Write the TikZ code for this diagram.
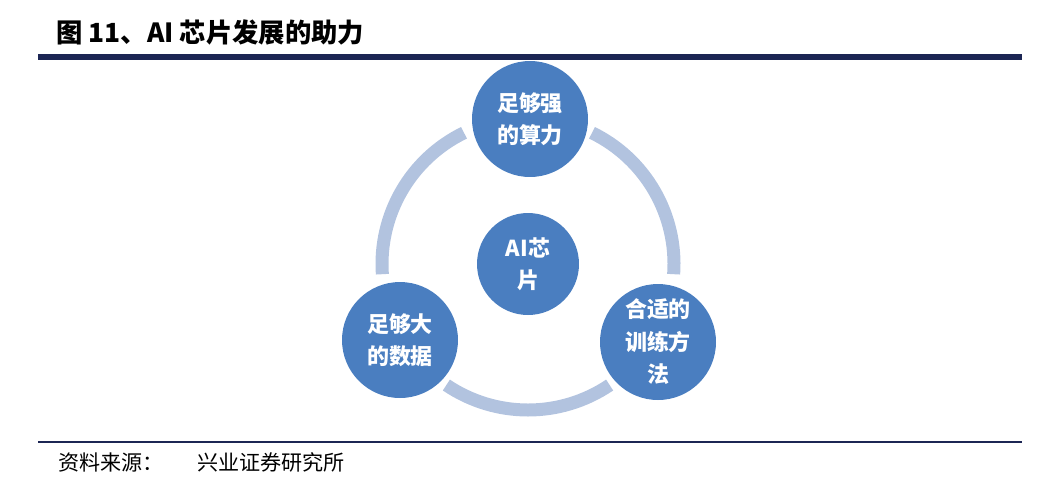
\documentclass[tikz,border=0pt]{standalone}
\usepackage{fontspec}
\usepackage{xcolor}
\usepackage{tikz}
\usetikzlibrary{positioning}
\setmainfont{Noto Sans CJK SC}
\definecolor{ballC}{HTML}{4A7EC0}
\definecolor{ringC}{HTML}{B2C3DF}
\definecolor{ruleC}{HTML}{1C2654}

\begin{document}
\begin{tikzpicture}[
    x=0.02cm, y=-0.02cm,
    ball/.style={circle, fill=ballC, inner sep=0pt, minimum size=2.32cm, align=center,
                 text=white, font=\fontsize{12.5}{18.5}\selectfont\bfseries},
    hub/.style={ball, minimum size=2.04cm},
    ring/.style={draw=ringC, line width=0.26cm, line cap=butt},
    rule/.style={draw=ruleC}
]
\useasboundingbox (0,0) rectangle (1054,488);

% heading and rules
\node[anchor=west, font=\fontsize{15}{18}\selectfont\bfseries] (title) at (50,32) {图 11、AI 芯片发展的助力};
\coordinate (topL) at (38,57);
\coordinate (topR) at (1022,57);
\draw[rule, line width=3pt] (topL) -- (topR);
\coordinate (botL) at (38,442);
\coordinate (botR) at (1022,442);
\draw[rule, line width=1.2pt] (botL) -- (botR);
\node[anchor=west, font=\fontsize{12}{14}\selectfont] (source) at (52,462) {资料来源：\hspace{1.6em}兴业证券研究所};

% ring round the hub (y axis points down, so angles are negated)
\node[hub] (chip) at (528,264) {AI芯\\片};
\draw[ring] (chip.center) ++(-116:146) arc[start angle=-116, end angle=-184, radius=146];
\draw[ring] (chip.center) ++(-236:146) arc[start angle=-236, end angle=-304, radius=146];
\draw[ring] (chip.center) ++(-356:146) arc[start angle=-356, end angle=-424, radius=146];

% the three supports
\node[ball] (power) at (530,119) {足够强\\的算力};
\node[ball] (data) at (400,340) {足够大\\的数据};
\node[ball] (train) at (658,342) {合适的\\训练方\\法};
\end{tikzpicture}
\end{document}
